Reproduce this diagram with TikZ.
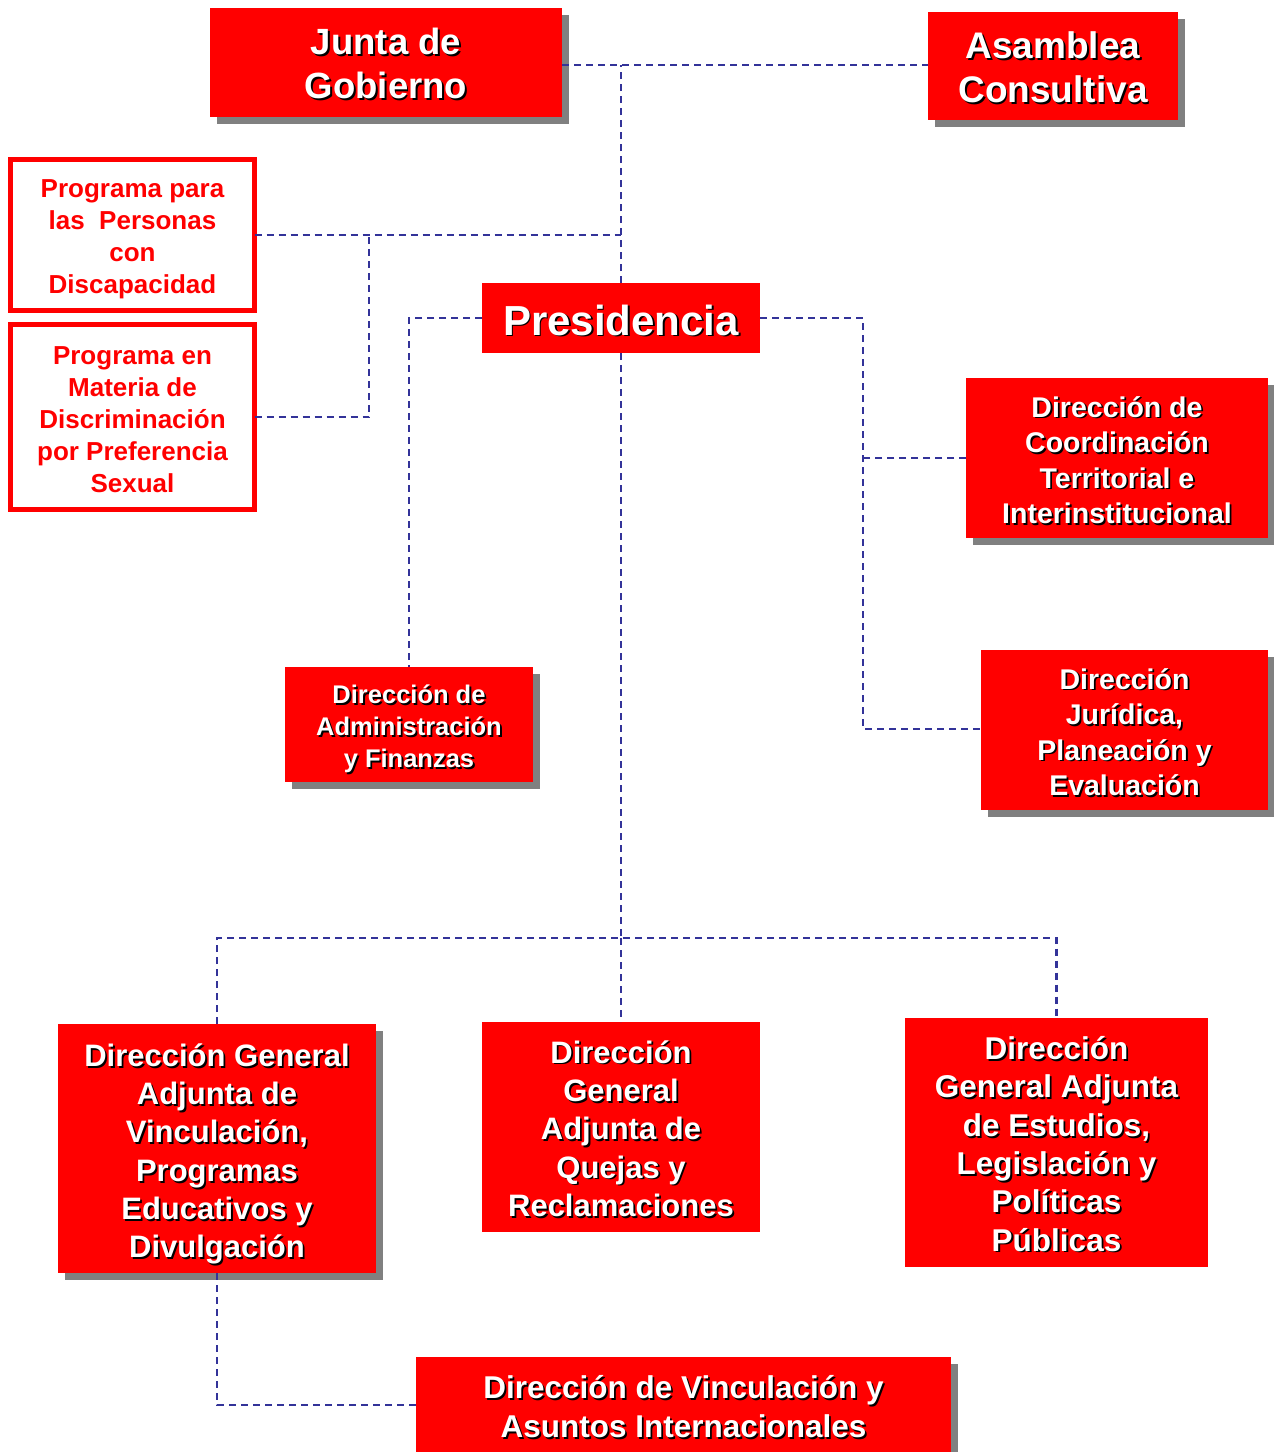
\documentclass[tikz,border=0pt]{standalone}
\usepackage{fontspec}
\setmainfont{Liberation Sans}
\usetikzlibrary{shadows}
\definecolor{boxred}{HTML}{FF0000}
\definecolor{lineblue}{HTML}{333399}
\definecolor{shadegray}{HTML}{808080}
\newcommand{\fsz}[2]{\fontsize{#1}{#2}\selectfont\bfseries}
% box name, y offset (down), font size, leading, text
\newcommand{\shtext}[5]{%
  \node[align=center, text=black, inner sep=0pt, font=\fsz{#3}{#4}] (#1-s) at ([shift={(1.8,#2+1.8)}]#1.center) {#5};
  \node[align=center, text=white, inner sep=0pt, font=\fsz{#3}{#4}] (#1-t) at ([shift={(0,#2)}]#1.center) {#5};}
\begin{document}
\begin{tikzpicture}[x=1pt,y=-1pt,
  rbox/.style={fill=boxred, anchor=north west, inner sep=0pt, outer sep=0pt},
  shad/.style={drop shadow={shadow xshift=7pt, shadow yshift=-7pt, fill=shadegray, opacity=1}},
  wbox/.style={draw=boxred, line width=5pt, fill=white, anchor=north west, inner sep=0pt, outer sep=0pt},
  wtext/.style={text=boxred, align=center, inner sep=0pt, font=\fsz{26}{32}},
  conn/.style={draw=lineblue, line width=2.4pt, dash pattern=on 7pt off 5pt}]
\clip (0,0) rectangle (1274,1452);
\fill[white] (0,0) rectangle (1274,1452);

% boxes
\node[rbox, shad, minimum width=352pt, minimum height=109pt] (junta) at (210,8) {};
\node[rbox, shad, minimum width=250pt, minimum height=108pt] (asam) at (928,12) {};
\node[rbox, minimum width=278pt, minimum height=70pt] (pres) at (482,283) {};
\node[rbox, shad, minimum width=302pt, minimum height=160pt] (coord) at (966,378) {};
\node[rbox, shad, minimum width=287pt, minimum height=160pt] (jur) at (981,650) {};
\node[rbox, shad, minimum width=248pt, minimum height=115pt] (admin) at (285,667) {};
\node[rbox, shad, minimum width=318pt, minimum height=249pt] (dgav) at (58,1024) {};
\node[rbox, minimum width=278pt, minimum height=210pt] (dgaq) at (482,1022) {};
\node[rbox, minimum width=303pt, minimum height=249pt] (dgae) at (905,1018) {};
\node[rbox, shad, minimum width=535pt, minimum height=110pt] (vint) at (416,1357) {};

\node[wbox, minimum width=244pt, minimum height=151pt] (prog1) at (10.5,159.5) {};
\node[wbox, minimum width=244pt, minimum height=185pt] (prog2) at (10.5,324.5) {};
\node[wtext] (prog1-t) at ([shift={(0,4)}]prog1.center)
  {Programa para\\las\ \ Personas\\con\\Discapacidad};
\node[wtext] (prog2-t) at ([shift={(0,3)}]prog2.center)
  {Programa en\\Materia de\\Discriminación\\por Preferencia\\Sexual};

% connectors
\coordinate (jl) at (0,65);
\coordinate (j1) at (369,235);
\coordinate (rb) at (863,729);
\coordinate (hub) at (621,938);
\coordinate (vl) at (0,1405);
\draw[conn] (junta.east |- jl) -- (asam.west |- jl);
\draw[conn] (pres.north) -- (pres.north |- jl);
\draw[conn] (prog1.east) -- (pres.north |- prog1.east);
\draw[conn] (prog2.east) -| (j1);
\draw[conn] (pres.west) -| (admin.north);
\draw[conn] (pres.east) -| (rb) -- (jur.west |- rb);
\draw[conn] (coord.west) -- (coord.west -| rb);
\draw[conn] (pres.south) -- (hub);
\draw[conn] (dgav.north) |- (hub) -| (dgae.north);
\draw[conn] (hub) -- (dgaq.north);
\draw[conn] (dgav.south) |- (vint.west |- vl);

% texts
\shtext{junta}{1}{36.5}{44}{Junta de\\Gobierno}
\shtext{asam}{1}{37}{44}{Asamblea\\Consultiva}
\shtext{pres}{2}{42}{48}{Presidencia}
\shtext{coord}{2}{28.5}{35.5}{Dirección de\\Coordinación\\Territorial e\\Interinstitucional}
\shtext{jur}{2}{28.5}{35.5}{Dirección\\Jurídica,\\Planeación y\\Evaluación}
\shtext{admin}{4.5}{25.5}{32}{Dirección de\\Administración\\y Finanzas}
\shtext{dgav}{5.5}{31}{38.3}{Dirección General\\Adjunta de\\Vinculación,\\Programas\\Educativos y\\Divulgación}
\shtext{dgaq}{1.5}{31}{38.3}{Dirección\\General\\Adjunta de\\Quejas y\\Reclamaciones}
\shtext{dgae}{1.5}{31.5}{38.3}{Dirección\\General Adjunta\\de Estudios,\\Legislación y\\Políticas\\Públicas}
\shtext{vint}{-5.5}{31.5}{39}{Dirección de Vinculación y\\Asuntos Internacionales}
\end{tikzpicture}
\end{document}
